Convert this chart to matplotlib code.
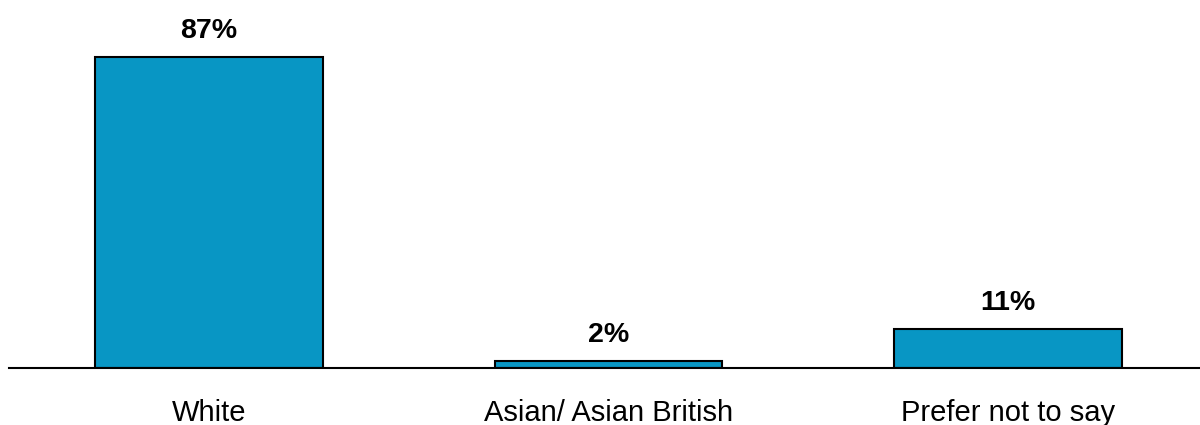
import matplotlib.pyplot as plt

# ethnicity breakdown
categories = ['White', 'Asian/ Asian British', 'Prefer not to say']
values = [87, 2, 11]
labels = ['87%', '2%', '11%']

plt.rcParams['font.family'] = ['Liberation Sans', 'DejaVu Sans']

fig = plt.figure(figsize=(12, 4.25), dpi=100)
ax = fig.add_axes([9 / 1200, 1 - 368 / 425, 1191 / 1200, 368 / 425])

x = range(len(categories))
ax.bar(x, values, width=0.57, color='#0896C4', edgecolor='black', linewidth=1.5, zorder=2)

for xi, v, lab in zip(x, values, labels):
    ax.annotate(lab, (xi, v), xytext=(0, 13.5), textcoords='offset points',
                ha='center', va='baseline', fontsize=20.5, fontweight='bold')

ax.set_xlim(-0.5006, 2.48)
ax.set_ylim(0, 103)
ax.set_yticks([])
ax.set_xticks(list(x))
ax.set_xticklabels(categories, fontsize=21)
ax.tick_params(axis='x', length=0, pad=22.5)
for s in ['top', 'right', 'left']:
    ax.spines[s].set_visible(False)
ax.spines['bottom'].set_linewidth(1.5)
ax.spines['bottom'].set_zorder(3)

fig.savefig('out.png', dpi=100)
